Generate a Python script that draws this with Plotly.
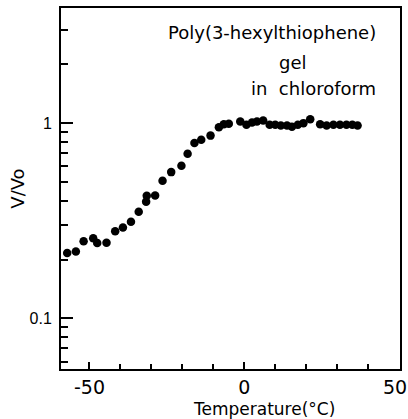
import plotly.graph_objects as go

temperature = [-59.3, -57.2, -54.4, -51.9, -48.8, -47.5, -44.5, -41.7, -39.2, -36.6,
               -34.1, -31.7, -31.5, -28.8, -26.4, -23.6, -20.3, -18.3, -16.1, -13.9,
               -10.9, -8.2, -6.6, -5.0, -1.3, 0.7, 2.5, 4.1, 6.1, 8.2,
               10.0, 11.8, 13.8, 15.4, 17.3, 19.1, 21.3, 24.5, 26.6, 28.8,
               30.9, 33.0, 34.9, 36.6]
v_ratio = [0.218, 0.216, 0.220, 0.248, 0.257, 0.243, 0.244, 0.279, 0.292, 0.312,
           0.351, 0.396, 0.425, 0.426, 0.506, 0.561, 0.604, 0.696, 0.792, 0.821,
           0.863, 0.952, 0.988, 0.992, 1.019, 0.980, 1.007, 1.019, 1.031, 0.980,
           0.980, 0.972, 0.972, 0.957, 0.980, 1.000, 1.048, 0.988, 0.972, 0.980,
           0.980, 0.980, 0.980, 0.972]

x_tick_vals = [-50, 0, 50]
x_tick_text = ["-50", "0", ""]
last_x_tick_label = "50"
x_title = "Temperature(°C)"
y_title = "V/Vo"
label_lines = ["Poly(3-hexylthiophene)", "gel", "in\u00a0\u00a0chloroform"]

FONT = "DejaVu Sans"

fig = go.Figure()
fig.add_trace(go.Scatter(
    x=temperature, y=v_ratio, mode="markers",
    marker=dict(color="black", size=8.5),
    showlegend=False, cliponaxis=False,
))

fig.update_layout(
    width=408, height=419,
    margin=dict(l=61, r=8, t=8, b=50),
    paper_bgcolor="white", plot_bgcolor="white",
    font=dict(family=FONT, color="black"),
    xaxis=dict(
        range=[-59.2, 50.3], tickmode="array", tickvals=x_tick_vals, ticktext=x_tick_text,
        automargin=False,
        ticks="inside", ticklen=7, tickwidth=2, tickcolor="black",
        showline=True, linewidth=2, linecolor="black", mirror=True,
        showgrid=False, zeroline=False,
        tickfont=dict(size=19, family=FONT),
        minor=dict(dtick=10, tick0=0, ticks="inside", ticklen=5, tickwidth=2,
                   tickcolor="black", showgrid=False),
    ),
    yaxis=dict(
        type="log", range=[-1.26, 0.59], tickmode="linear", tick0=0, dtick=1,
        automargin=False,
        ticks="inside", ticklen=12, tickwidth=2, tickcolor="black",
        showline=True, linewidth=2, linecolor="black", mirror=True,
        showgrid=False, zeroline=False,
        tickfont=dict(size=16, family="Liberation Sans"),
        ticklabelstandoff=4,
        minor=dict(dtick="D1", ticks="inside", ticklen=7, tickwidth=2,
                   tickcolor="black", showgrid=False),
        title=dict(text=y_title, font=dict(size=18, family=FONT), standoff=0),
    ),
)

# last x tick label sits just inside the right frame, as in the original
fig.add_annotation(text=last_x_tick_label, xref="x", yref="paper",
                   x=x_tick_vals[-1], y=0, xanchor="center", yanchor="middle",
                   xshift=-4.5, yshift=-18, showarrow=False,
                   font=dict(size=19, family=FONT))
# x-axis title (offset to the right of centre, as in the original)
fig.add_annotation(text=x_title, xref="paper", yref="paper",
                   x=0.599, y=0, xanchor="center", yanchor="middle",
                   yshift=-39.5, showarrow=False,
                   font=dict(size=17, family=FONT))

fig.add_annotation(text=label_lines[0], xref="paper", yref="paper",
                   x=0.935, y=0.931, xanchor="right", yanchor="middle",
                   showarrow=False, font=dict(size=18, family=FONT))
fig.add_annotation(text=label_lines[1], xref="paper", yref="paper",
                   x=0.683, y=0.850, xanchor="center", yanchor="middle",
                   showarrow=False, font=dict(size=18, family=FONT))
fig.add_annotation(text=label_lines[2], xref="paper", yref="paper",
                   x=0.935, y=0.778, xanchor="right", yanchor="middle",
                   showarrow=False, font=dict(size=18, family=FONT))

fig.write_html(
    "out.html",
    config={"displayModeBar": False},
    post_script="document.body.style.margin='0';document.body.style.overflow='hidden';",
)
